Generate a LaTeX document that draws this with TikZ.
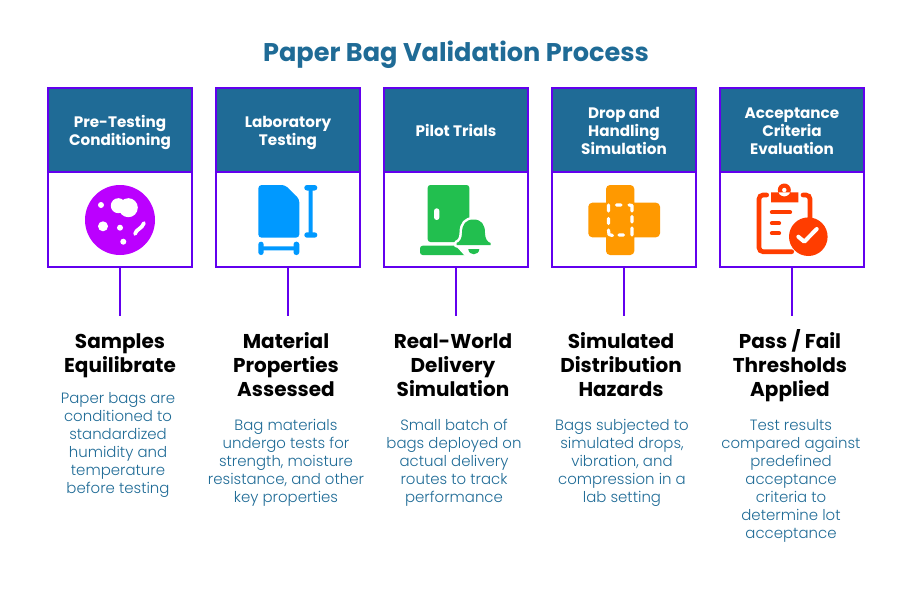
\documentclass[tikz,border=0pt]{standalone}
\usepackage{fontspec}
\setmainfont{Poppins}
\newfontfamily\lightfont[UprightFont=* Light]{Poppins}
\usetikzlibrary{positioning}
\definecolor{titleblue}{HTML}{1F6B96}
\definecolor{cardline}{HTML}{6200EE}
\definecolor{iconpurple}{HTML}{BB00FF}
\definecolor{iconblue}{HTML}{0099FF}
\definecolor{icongreen}{HTML}{22BF4F}
\definecolor{iconorange}{HTML}{FF9900}
\definecolor{iconred}{HTML}{FF3D00}
\newcommand{\headlines}[1]{\rule{0pt}{14pt}#1\rule[-4pt]{0pt}{4pt}}
\newcommand{\stagelines}[1]{\rule{0pt}{18pt}#1}
\newcommand{\notelines}[1]{\rule{0pt}{14pt}#1}
\begin{document}
\begin{tikzpicture}
[x=0.75pt,y=-0.75pt,
  headdecorate/.style={shape=rectangle,draw=cardline,line width=1.5pt,fill=titleblue,text=white,
    minimum width=108pt,minimum height=63pt,inner sep=0pt,align=center,
    font=\fontsize{11.4}{13.5}\selectfont\bfseries},
  bodydecorate/.style={shape=rectangle,draw=cardline,line width=1.5pt,fill=white,
    minimum width=108pt,minimum height=71.25pt,inner sep=0pt},
  stagedecorate/.style={anchor=north,inner sep=0pt,align=center,
    font=\fontsize{15}{18}\selectfont\bfseries},
  notedecorate/.style={anchor=north,inner sep=0pt,align=center,text=titleblue,
    font=\lightfont\fontsize{11.2}{13.5}\selectfont},
  linedecorate/.style={-,draw=cardline,line width=1.5pt}]
\useasboundingbox (0,0) rectangle (912,588);
% title
\node (title) at (456,55) [text=titleblue,inner sep=0pt,font=\fontsize{19.2}{22}\selectfont\bfseries] {Paper Bag Validation Process};
% cards
\node (body1) at (120,219.5) [bodydecorate] {};
\node (head1) at (120,130) [headdecorate] {\headlines{Pre-Testing\\Conditioning}};
\node (body2) at (288,219.5) [bodydecorate] {};
\node (head2) at (288,130) [headdecorate] {\headlines{Laboratory\\Testing}};
\node (body3) at (456,219.5) [bodydecorate] {};
\node (head3) at (456,130) [headdecorate] {\headlines{Pilot Trials}};
\node (body4) at (624,219.5) [bodydecorate] {};
\node (head4) at (624,130) [headdecorate] {\headlines{Drop and\\Handling\\Simulation}};
\node (body5) at (792,219.5) [bodydecorate] {};
\node (head5) at (792,130) [headdecorate] {\headlines{Acceptance\\Criteria\\Evaluation}};
% connector ends
\coordinate (end1) at (120,316);
\coordinate (end2) at (288,316);
\coordinate (end3) at (456,316);
\coordinate (end4) at (624,316);
\coordinate (end5) at (792,316);
% stage texts
\node (stage1) at (120,324) [stagedecorate] {\stagelines{Samples\\Equilibrate}};
\node (note1) at (118,384.5) [notedecorate] {\notelines{Paper bags are\\conditioned to\\standardized\\humidity and\\temperature\\before testing}};
\node (stage2) at (286,324) [stagedecorate] {\stagelines{Material\\Properties\\Assessed}};
\node (note2) at (286,411.5) [notedecorate] {\notelines{Bag materials\\undergo tests for\\strength, moisture\\resistance, and other\\key properties}};
\node (stage3) at (453,324) [stagedecorate] {\stagelines{Real-World\\Delivery\\Simulation}};
\node (note3) at (454,411.5) [notedecorate] {\notelines{Small batch of\\bags deployed on\\actual delivery\\routes to track\\performance}};
\node (stage4) at (621,324) [stagedecorate] {\stagelines{Simulated\\Distribution\\Hazards}};
\node (note4) at (622,411.5) [notedecorate] {\notelines{Bags subjected to\\simulated drops,\\vibration, and\\compression in a\\lab setting}};
\node (stage5) at (790,324) [stagedecorate] {\stagelines{Pass / Fail\\Thresholds\\Applied}};
\node (note5) at (791,411.5) [notedecorate] {\notelines{Test results\\compared against\\predefined\\acceptance\\criteria to\\determine lot\\acceptance}};
% connectors
\path
(body1) edge[linedecorate] (end1)
(body2) edge[linedecorate] (end2)
(body3) edge[linedecorate] (end3)
(body4) edge[linedecorate] (end4)
(body5) edge[linedecorate] (end5);
% petri dish icon
\fill[iconpurple] (120,220) circle (35);
\fill[white] (101,205) circle (3) (118.3,205.7) circle (7.5) (128.3,207.7) circle (9.5)
  (103,226.3) circle (5) (120,227.7) circle (3) (123.3,241.7) circle (3);
\draw[white,line width=2.8pt,line cap=round] (135,234) .. controls (136,229) and (142,229) .. (144,223);
% size sheet icon
\fill[iconblue,rounded corners=2.5pt] (258.3,185) -- (285,185) -- (299.3,199) -- (299.3,237.7) -- (258.3,237.7) -- cycle;
\fill[iconblue,rounded corners=2pt] (304.3,185) rectangle (317.3,190.5) (304.3,232.3) rectangle (317.3,237.7)
  (258.3,241.7) rectangle (263.7,255) (293.5,241.7) rectangle (299.3,255);
\fill[iconblue] (308.5,188) rectangle (312.5,235) (261,246.3) rectangle (296,250.3);
% door and bell icon
\fill[icongreen,rounded corners=2pt] (427.7,185) -- (469.3,185) -- (469.3,242) -- (427.7,242) -- cycle;
\fill[icongreen,rounded corners=2pt] (420,245.7) rectangle (468,255);
\fill[white,rounded corners=2pt] (434,208.3) rectangle (439.4,220);
\draw[white,fill=white,line width=3.8pt,line join=round] (456.5,245) -- (456.5,243) .. controls (460,242) and (462,238) .. (462,233) .. controls (462,224) and (466,219.5) .. (473.5,219.5) .. controls (481,219.5) and (485,224) .. (485,233) .. controls (485,238) and (487,242) .. (490.5,243) -- (490.5,245) -- cycle;
\fill[white] (455,245) -- (465,256) -- (494,258) -- (494,245) -- cycle;
\fill[icongreen] (456.5,245) -- (456.5,243) .. controls (460,242) and (462,238) .. (462,233) .. controls (462,224) and (466,219.5) .. (473.5,219.5) .. controls (481,219.5) and (485,224) .. (485,233) .. controls (485,238) and (487,242) .. (490.5,243) -- (490.5,245) -- cycle;
\fill[icongreen] (468.3,249) -- (479.3,249) .. controls (479,256) and (468.6,256) .. (468.3,249) -- cycle;
% plaster icon
\fill[iconorange,rounded corners=3pt] (606,185) rectangle (634.3,255) (588.3,202.7) rectangle (660,237.3);
\draw[white,line width=2.4pt,line cap=round,line join=round]
  (608.5,205) -- (608.5,211) (616.5,205) -- (621,205) (629,205) -- (632,205.5) -- (632,211)
  (632,216.5) -- (632,222) (632,228) -- (632,235) (619,235) -- (623.5,235)
  (608.5,218.5) -- (608.5,223.5) (608.5,230) -- (609,234.5) -- (612.5,235.5);
% clipboard icon
\draw[iconred,line width=3.5pt,line cap=round,rounded corners=3pt] (766.7,195) -- (759,195) -- (759,251.7) -- (791.7,251.7);
\draw[iconred,line width=3.5pt,line cap=round,rounded corners=3pt] (803,195) -- (810,195) -- (810,218);
\fill[iconred] (771,192.3) rectangle (798.3,202.3) (784.3,190) circle (6.5);
\fill[white] (784.3,190) circle (2.2);
\draw[iconred,line width=3.2pt,line cap=round] (772,212.3) -- (790,212.3) (772,223.3) -- (779,223.3) (772,233.3) -- (779,233.3);
\fill[iconred] (808.3,236.7) circle (19.3);
\draw[white,line width=3pt,line cap=round,line join=round] (798.3,236.7) -- (804.3,241.7) -- (816.7,229);
\end{tikzpicture}
\end{document}
